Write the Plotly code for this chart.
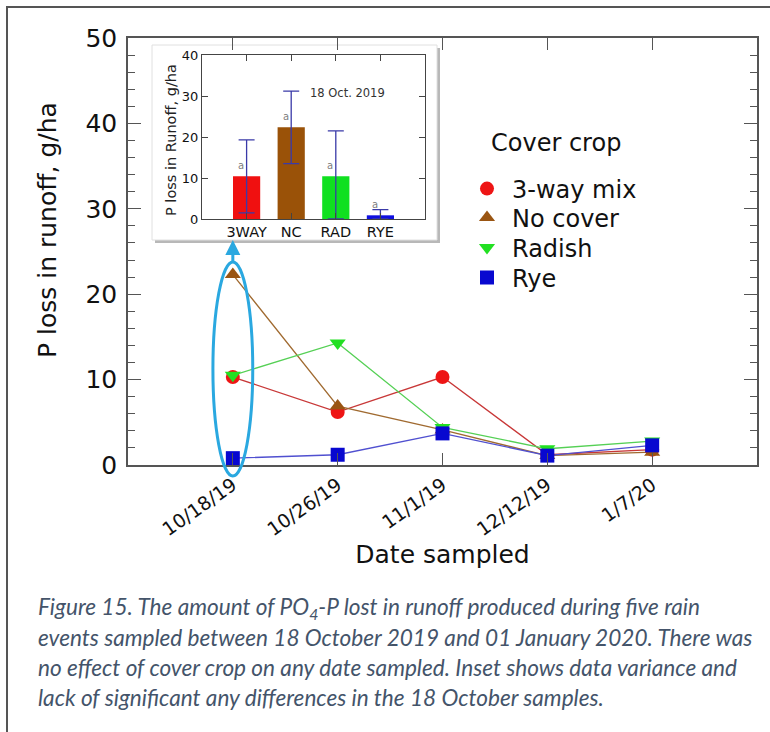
import plotly.graph_objects as go

W, H = 770, 732

# ---------------- data ----------------
dates = ["10/18/19", "10/26/19", "11/1/19", "12/12/19", "1/7/20"]
series_names = ["3-way mix", "No cover", "Radish", "Rye"]
mix3 = [10.3, 6.2, 10.3, 1.2, 1.8]
no_cover = [22.3, 6.9, 4.1, 1.1, 1.5]
radish = [10.5, 14.3, 4.4, 1.9, 2.8]
rye = [0.8, 1.2, 3.7, 1.1, 2.3]

inset_cats = ["3WAY", "NC", "RAD", "RYE"]
inset_vals = [10.4, 22.4, 10.4, 0.9]
inset_err_plus = [8.9, 8.8, 11.1, 1.4]
inset_err_minus = [8.9, 8.9, 10.4, 0.9]
inset_letters = ["a", "a", "a", "a"]

y_ticks = [0, 10, 20, 30, 40, 50]
inset_y_ticks = [0, 10, 20, 30, 40]

caption_lines = [
    "Figure 15. The amount of PO<sub>4</sub>-P lost in runoff produced during five rain",
    "events sampled between 18 October 2019 and 01 January 2020. There was",
    "no effect of cover crop on any date sampled. Inset shows data variance and",
    "lack of significant any differences in the 18 October samples.",
]

# ---------------- style ----------------
FONT = "DejaVu Sans"
marker_colors = ["#ee1515", "#9a5512", "#22e022", "#0808d0"]
line_colors = ["#c83838", "#a06a30", "#55d055", "#5050d0"]
symbols = ["circle", "triangle-up", "triangle-down", "square"]
bar_colors = ["#f01010", "#9a5208", "#10e020", "#1010e0"]
legend_rows_px = [189, 218, 248, 278]   # vertical centres of legend rows


def px_x(v):
    return v / W


def px_y(v):
    return 1 - v / H


fig = go.Figure()
all_series = [mix3, no_cover, radish, rye]
legend_ids = ["legend", "legend2", "legend3", "legend4"]

# lines first
for name, vals, lc in zip(series_names, all_series, line_colors):
    fig.add_trace(go.Scatter(
        x=dates, y=vals, mode="lines", line=dict(color=lc, width=1.3),
        showlegend=False, hoverinfo="skip", xaxis="x", yaxis="y"))
# markers on top
for name, vals, mc, sym, lg in zip(series_names, all_series, marker_colors, symbols, legend_ids):
    fig.add_trace(go.Scatter(
        x=dates, y=vals, mode="markers", name=name, legend=lg,
        marker=dict(color=mc, symbol=sym, size=14, line=dict(width=0)),
        xaxis="x", yaxis="y"))

# inset bars
fig.add_trace(go.Bar(
    x=inset_cats, y=inset_vals, marker=dict(color=bar_colors, line=dict(width=0)),
    width=0.61, showlegend=False, xaxis="x2", yaxis="y2",
    error_y=dict(type="data", symmetric=False, array=inset_err_plus,
                 arrayminus=inset_err_minus, color="#3a3aa8", thickness=1.3, width=8)))

annotations = []


def ann(x, y, text, size, color="#111", angle=0, xanchor="center", family=FONT, **kw):
    d = dict(x=x, y=y, xref=kw.pop("xref", "paper"), yref=kw.pop("yref", "paper"),
             text=text, showarrow=False, textangle=angle, xanchor=xanchor, yanchor="middle",
             font=dict(family=family, size=size, color=color))
    d.update(kw)
    annotations.append(d)


# letters above inset bars
for i, (v, l) in enumerate(zip(inset_vals, inset_letters)):
    ann(i - 0.12, v + 2.6, l, 10, "#808080", xref="x2", yref="y2")
ann(px_x(347), px_y(93), "18 Oct. 2019", 11.5, "#333")
# inset y title
ann(px_x(171), px_y(140), "P loss in Runoff, g/ha", 14.5, "#222", angle=-90)
# main y title
ann(px_x(47), px_y(230), "P loss in runoff, g/ha", 25, "#111", angle=-90)
# legend title
ann(px_x(556), px_y(143), "Cover crop", 24, "#111")
# caption
for k, line in enumerate(caption_lines):
    ann(px_x(36), px_y(608 + 29.7 * k), "<i>" + line + "</i>", 22.6, "#44546a",
        xanchor="left", family="Lato")

# arrow from ellipse to inset
annotations.append(dict(x=dates[0], y=px_y(240), xref="x", yref="paper",
                        ax=0, ay=23, axref="pixel", ayref="pixel", text="",
                        showarrow=True, arrowhead=2, arrowsize=1, arrowwidth=3,
                        arrowcolor="#2aa8e0"))

shapes = [
    # outer frame
    dict(type="rect", xref="paper", yref="paper", x0=px_x(7), x1=px_x(790),
         y0=px_y(760), y1=px_y(7), line=dict(color="#555", width=2), layer="below"),
    # inset shadow and box
    dict(type="rect", xref="paper", yref="paper", x0=px_x(155), x1=px_x(440),
         y0=px_y(243), y1=px_y(48), fillcolor="#b8b8b8", line=dict(width=0), layer="below"),
    dict(type="rect", xref="paper", yref="paper", x0=px_x(152), x1=px_x(437),
         y0=px_y(240), y1=px_y(45), fillcolor="white", line=dict(color="#e0e0e0", width=1),
         layer="below"),
    # highlight ellipse around first date
    dict(type="circle", xref="x", yref="paper", x0=-0.19, x1=0.19,
         y0=px_y(476), y1=px_y(262), line=dict(color="#2aa8e0", width=3)),
]

legend_common = dict(xanchor="left", yanchor="middle", bgcolor="rgba(0,0,0,0)",
                     font=dict(family=FONT, size=24, color="#111"), itemwidth=40)
legends = {}
for lg, ypx in zip(legend_ids, legend_rows_px):
    legends[lg] = dict(x=px_x(462), y=px_y(ypx), **legend_common)

fig.update_layout(
    width=W, height=H,
    margin=dict(l=0, r=0, t=0, b=0, autoexpand=False),
    paper_bgcolor="white", plot_bgcolor="rgba(0,0,0,0)",
    font=dict(family=FONT, color="#111"),
    showlegend=True,
    xaxis=dict(domain=[px_x(128), px_x(757)], type="category", categoryarray=dates,
               range=[-1, 5], showline=True, linecolor="#555", linewidth=1.5, mirror="ticks",
               ticks="inside", ticklen=12, tickcolor="#555", tickwidth=1.3,
               tickangle=-35, tickfont=dict(family=FONT, size=19, color="#111"),
               showgrid=False, zeroline=False, anchor="y",
               title=dict(text="Date sampled", font=dict(family=FONT, size=25, color="#111"),
                          standoff=5)),
    yaxis=dict(domain=[px_y(465), px_y(38)], range=[0, 50], tickvals=y_ticks,
               showline=True, linecolor="#555", linewidth=1.5, mirror="ticks",
               ticks="inside", ticklen=13, tickcolor="#555", tickwidth=1.3,
               minor=dict(dtick=2, ticks="inside", ticklen=7, tickcolor="#555", tickwidth=1.1),
               tickfont=dict(family=FONT, size=25, color="#111"), ticklabelstandoff=4,
               showgrid=False, zeroline=False, anchor="x"),
    xaxis2=dict(domain=[px_x(202), px_x(425)], type="category", categoryarray=inset_cats,
                range=[-1, 4], showline=True, linecolor="#444", linewidth=1, mirror="ticks",
                ticks="inside", ticklen=6, tickcolor="#444",
                tickfont=dict(family=FONT, size=14.5, color="#111"),
                showgrid=False, zeroline=False, anchor="y2"),
    yaxis2=dict(domain=[px_y(219), px_y(55)], range=[0, 40], tickvals=inset_y_ticks,
                showline=True, linecolor="#444", linewidth=1, mirror="ticks",
                ticks="inside", ticklen=6, tickcolor="#444",
                tickfont=dict(family=FONT, size=13, color="#111"),
                showgrid=False, zeroline=False, anchor="x2"),
    annotations=annotations,
    shapes=shapes,
    **legends,
)

fig.write_html("out.html", config={"displayModeBar": False},
               post_script="document.body.style.margin='0px';")
